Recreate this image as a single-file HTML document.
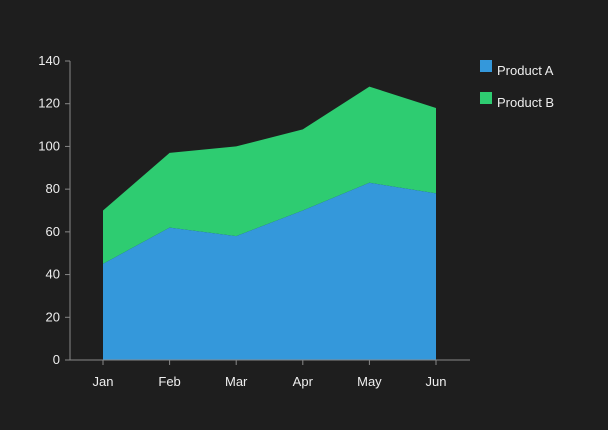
<!DOCTYPE html>
<html><head><meta charset="utf-8"><style>
body{margin:0;background:#1e1e1e;}
svg{display:block;font-family:"Liberation Sans",sans-serif;}
</style></head><body>
<svg width="608" height="430" id="chart">
<rect width="608" height="430" fill="#1e1e1e"/>
</svg>
<script>
const categories=["Jan","Feb","Mar","Apr","May","Jun"];
const productA=[45,62,58,70,83,78];
const productB=[25,35,42,38,45,40];
const yTicks=[0,20,40,60,80,100,120,140];
const seriesNames=["Product A","Product B"];
const colors=["#3498db","#2ecc71"];
const NS="http://www.w3.org/2000/svg";
const svg=document.getElementById("chart");
const x0=103,x1=436,yBase=360,yTop=61,yMax=140;
const xs=i=>x0+i*(x1-x0)/(categories.length-1);
const ys=v=>yBase-v*(yBase-yTop)/yMax;
function mk(t,a){const e=document.createElementNS(NS,t);for(const k in a)e.setAttribute(k,a[k]);svg.appendChild(e);return e;}
const tot=productA.map((v,i)=>v+productB[i]);
// Product B area
let d="M"+categories.map((c,i)=>xs(i)+","+ys(tot[i])).join("L");
for(let i=categories.length-1;i>=0;i--)d+="L"+xs(i)+","+ys(productA[i]);
let e=mk("path",{d:d+"Z",fill:colors[1]});


d="M"+categories.map((c,i)=>xs(i)+","+ys(productA[i])).join("L")+"L"+xs(categories.length-1)+","+ys(0)+"L"+xs(0)+","+ys(0)+"Z";
e=mk("path",{d:d,fill:colors[0]});


e=mk("line",{x1:70,y1:yTop,x2:70,y2:yBase,stroke:"#888"});


e=mk("line",{x1:70,y1:yBase,x2:470,y2:yBase,stroke:"#888"});


yTicks.forEach(v=>{
 let t=mk("line",{x1:65,x2:70,y1:ys(v),y2:ys(v),stroke:"#888"});
 
 
 let l=mk("text",{x:60,y:ys(v)+4,"text-anchor":"end","font-size":13,fill:"#eee"});
 l.textContent=v;
 
 
});
categories.forEach((c,i)=>{
 let t=mk("line",{x1:xs(i),x2:xs(i),y1:yBase,y2:yBase+5,stroke:"#888"});
 
 
 let l=mk("text",{x:xs(i),y:386,"text-anchor":"middle","font-size":13,fill:"#eee"});
 l.textContent=c;
 
 
});
seriesNames.forEach((n,i)=>{
 let r=mk("rect",{x:480,y:60+i*32,width:12,height:12,fill:colors[i]});
 
 
 let l=mk("text",{x:497,y:75+i*32,"font-size":13,fill:"#eee"});
 l.textContent=n;
 
 
});
</script>
</body></html>
